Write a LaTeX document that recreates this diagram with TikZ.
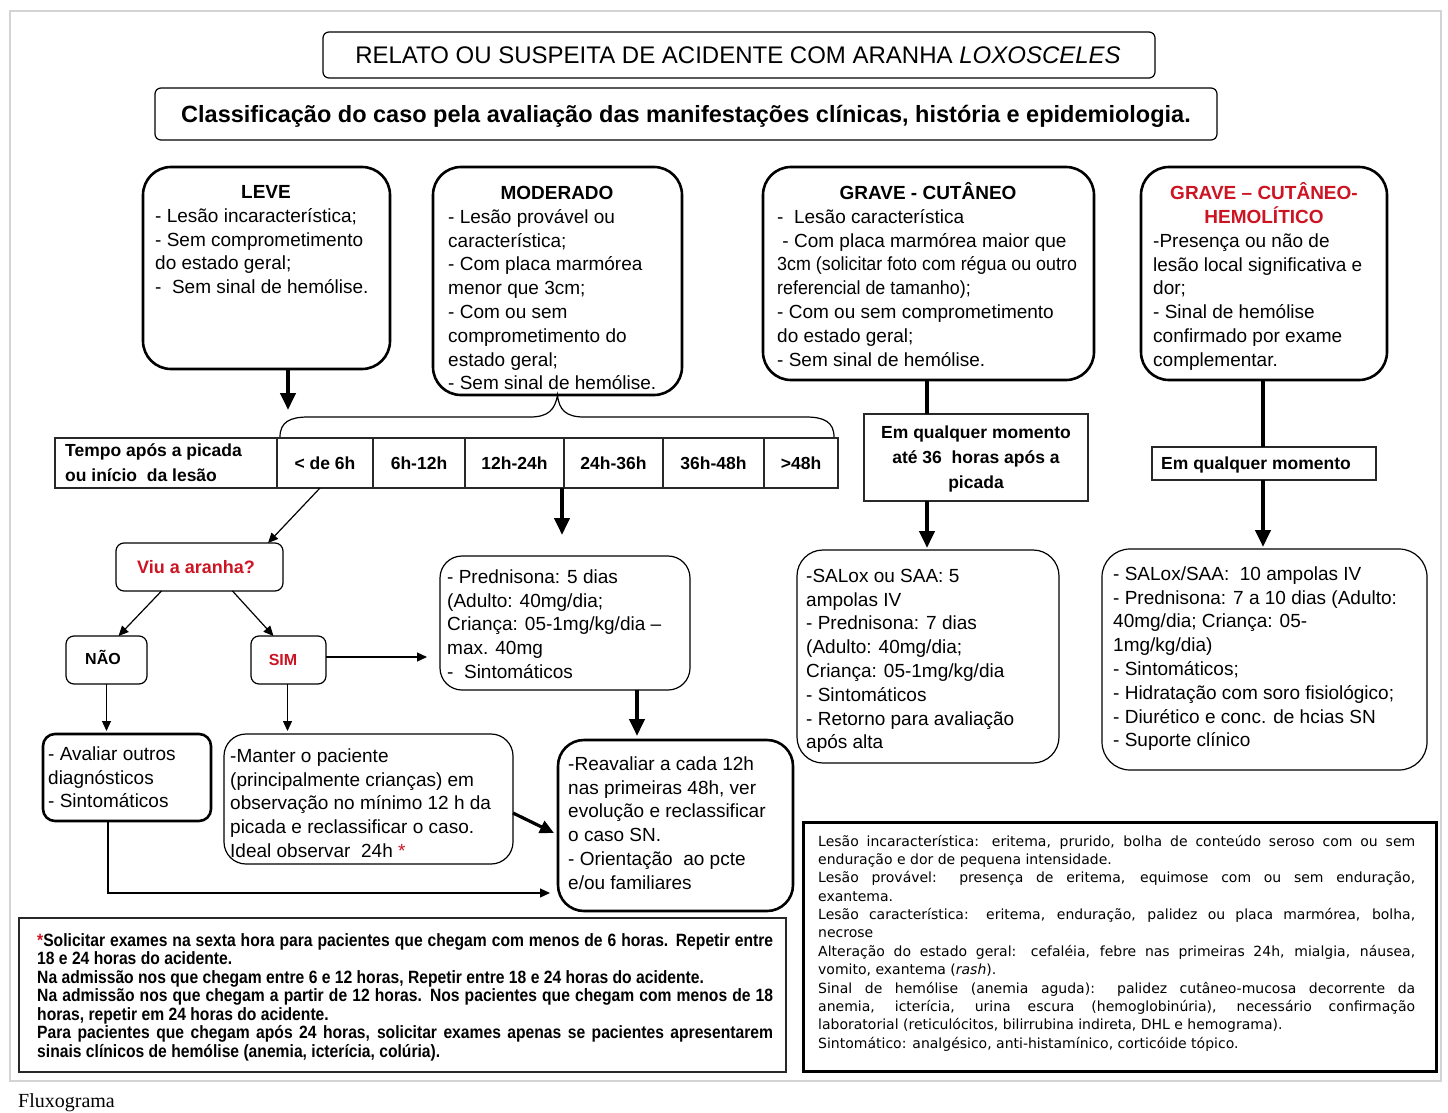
\documentclass[tikz,border=0pt]{standalone}
\usepackage{fontspec}
\setmainfont{Liberation Sans}
\newfontfamily\notefont{DejaVu Sans}
\newfontfamily\narrowfont[FakeStretch=0.88]{Liberation Sans}
\newfontfamily\condfont[FakeStretch=0.94]{Liberation Sans}
\newfontfamily\capfont{Liberation Serif}
\usetikzlibrary{arrows.meta}
\definecolor{myred}{RGB}{205,20,35}
\definecolor{framegray}{RGB}{212,212,212}
\definecolor{linegray}{RGB}{40,40,40}
\newcommand{\bx}{\fontsize{19}{23.8}\selectfont}
\newcommand{\tb}{\fontsize{17.5}{25}\selectfont\bfseries}
\tikzset{
  bigbox/.style={draw, line width=2.6pt, rounded corners=28pt, inner sep=0pt, outer sep=0pt, anchor=north west},
  thinbox/.style={draw, line width=1.2pt, rounded corners=22pt, inner sep=0pt, outer sep=0pt, anchor=north west},
  smallbox/.style={draw, line width=1.2pt, rounded corners=8pt, inner sep=0pt, outer sep=0pt, anchor=north west},
  sqbox/.style={draw=linegray, line width=1.5pt, inner sep=0pt, outer sep=0pt, anchor=north west},
  cell/.style={draw=linegray, line width=1.4pt, inner sep=0pt, outer sep=0pt, anchor=north west, font=\tb},
  bodytxt/.style={anchor=north west, inner sep=0pt, align=left, font=\bx},
  titletxt/.style={anchor=base, inner sep=0pt, font=\bx\bfseries},
  thickarr/.style={line width=4pt, -{Triangle[width=15pt,length=17pt]}},
  thickline/.style={line width=4pt},
  thinarr/.style={line width=1.2pt, -{Triangle[width=9pt,length=10pt]}},
}
\newcommand{\mybox}[6]{\node[#6, minimum width={#4-#2}, minimum height={#5-#3}] (#1) at (#2,#3) {};}
\begin{document}
\begin{tikzpicture}[x=1pt,y=-1pt]
\useasboundingbox (0,0) rectangle (1448,1113);
\fill[white] (0,0) rectangle (1448,1113);
\node[draw=framegray, line width=1.6pt, inner sep=0pt, anchor=north west, minimum width=1431, minimum height=1070] (frame) at (9,10) {};
\node[anchor=base west, inner sep=0pt, font=\capfont\fontsize{20}{24}\selectfont] (caption) at (18,1107) {Fluxograma};

% ---------- header boxes
\mybox{titlebox}{323}{32}{1155}{78}{smallbox, rounded corners=6pt}
\node[anchor=base, inner sep=0pt, font=\fontsize{24}{28}\selectfont] (titletext) at (738,64) {RELATO OU SUSPEITA DE ACIDENTE COM ARANHA \textit{LOXOSCELES}};
\mybox{classbox}{155}{88}{1217}{140}{smallbox, rounded corners=6pt}
\node[anchor=base, inner sep=0pt, font=\fontsize{23.5}{27}\selectfont\bfseries] (classtext) at (686,123) {Classificação do caso pela avaliação das manifestações clínicas, história e epidemiologia.};

% ---------- classification boxes
\mybox{leve}{143}{167}{390}{369}{bigbox}
\node[titletxt] (levet) at (266,198) {LEVE};
\node[bodytxt] (leveb) at (155,222-16.66) {\strut- Lesão incaracterística;\\- Sem comprometimento\\do estado geral;\\-\ \ Sem sinal de hemólise.};

\mybox{moderado}{433}{167}{682}{395}{bigbox}
\node[titletxt] (modt) at (557,199) {MODERADO};
\node[bodytxt] (modb) at (448,223-16.66) {\strut- Lesão provável ou\\característica;\\- Com placa marmórea\\menor que 3cm;\\- Com ou sem\\comprometimento do\\estado geral;\\- Sem sinal de hemólise.};

\mybox{gravec}{763}{167}{1094}{380}{bigbox}
\node[titletxt] (gct) at (928,199) {GRAVE - CUTÂNEO};
\node[bodytxt] (gcb) at (777,223-16.66) {\strut-\ \ Lesão característica\\\ - Com placa marmórea maior que\\{\condfont 3cm (solicitar foto com régua ou outro}\\{\condfont referencial de tamanho);}\\- Com ou sem comprometimento\\do estado geral;\\- Sem sinal de hemólise.};

\mybox{graveh}{1141}{167}{1387}{380}{bigbox}
\node[titletxt, text=myred] (ght1) at (1264,199) {GRAVE – CUTÂNEO-};
\node[titletxt, text=myred] (ght2) at (1264,223) {HEMOLÍTICO};
\node[bodytxt] (ghb) at (1153,247-16.66) {\strut-Presença ou não de\\lesão local significativa e\\dor;\\- Sinal de hemólise\\confirmado por exame\\complementar.};

% ---------- brace
\coordinate (braceL) at (280,437);
\coordinate (braceR) at (834,437);
\draw[line width=1.2pt] (braceL) .. controls (280,422) and (290,417) .. (308,417) -- (530,417) .. controls (548,417) and (555,410) .. (moderado.south) .. controls (559,410) and (566,417) .. (584,417) -- (806,417) .. controls (824,417) and (834,422) .. (braceR);

% ---------- table
\mybox{thead}{55}{438}{277}{488}{cell}
\node[anchor=north west, inner sep=0pt, align=left, font=\tb] (theadt) at (65,456-17.5) {\strut Tempo após a picada\\ou início\ \ da lesão};
\node[cell, minimum width=96, minimum height=50] (c1) at (277,438) {< de 6h};
\node[cell, minimum width=92, minimum height=50] (c2) at (373,438) {6h-12h};
\node[cell, minimum width=99, minimum height=50] (c3) at (465,438) {12h-24h};
\node[cell, minimum width=99, minimum height=50] (c4) at (564,438) {24h-36h};
\node[cell, minimum width=101, minimum height=50] (c5) at (663,438) {36h-48h};
\node[cell, minimum width=74, minimum height=50] (c6) at (764,438) {>48h};

\coordinate (leveEnd) at (288,410);
\draw[thickarr] (leve.south -| leveEnd) -- (leveEnd);

% ---------- grave boxes below
\mybox{emq1}{864}{414}{1088}{501}{sqbox}
\node[anchor=north, inner sep=0pt, align=center, font=\tb] (emq1t) at (976,438-17.5) {\strut Em qualquer momento\\até 36\ \ horas após a\\picada};
\mybox{emq2}{1152}{447}{1376}{480}{sqbox}
\node[anchor=base, inner sep=0pt, font=\tb] (emq2t) at (1256,469) {Em qualquer momento};

\coordinate (gcx) at (927,0);
\coordinate (ghx) at (1263,0);
\draw[thickline] (gravec.south -| gcx) -- (emq1.north -| gcx);
\draw[thickline] (graveh.south -| ghx) -- (emq2.north -| ghx);

\mybox{salox}{797}{550}{1059}{763}{thinbox, rounded corners=26pt}
\node[bodytxt] (saloxb) at (806,582-16.66) {\strut-SALox ou SAA: 5\\ampolas IV\\- Prednisona: 7 dias\\(Adulto: 40mg/dia;\\Criança: 05-1mg/kg/dia\\- Sintomáticos\\- Retorno para avaliação\\após alta};
\mybox{salox2}{1102}{549}{1427}{770}{thinbox, rounded corners=28pt}
\node[bodytxt] (salox2b) at (1113,580-16.66) {\strut- SALox/SAA:\ \ 10 ampolas IV\\- Prednisona: 7 a 10 dias (Adulto:\\40mg/dia; Criança: 05-\\1mg/kg/dia)\\- Sintomáticos;\\- Hidratação com soro fisiológico;\\- Diurético e conc. de hcias SN\\- Suporte clínico};

\draw[thickarr] (emq1.south -| gcx) -- ([yshift=2pt]salox.north -| gcx);
\draw[thickarr] (emq2.south -| ghx) -- ([yshift=2pt]salox2.north -| ghx);

% ---------- left flow
\mybox{viu}{116}{543}{283}{591}{smallbox}
\node[anchor=base, inner sep=0pt, font=\fontsize{18}{22}\selectfont\bfseries, text=myred] (viut) at (196,573) {Viu a aranha?};
\mybox{nao}{66}{636}{147}{684}{smallbox}
\node[anchor=base, inner sep=0pt, font=\fontsize{16}{20}\selectfont\bfseries] (naot) at (103,664) {NÃO};
\mybox{sim}{251}{636}{326}{684}{smallbox}
\node[anchor=base, inner sep=0pt, font=\fontsize{16}{20}\selectfont\bfseries, text=myred] (simt) at (283,665) {SIM};

\draw[thinarr] ([xshift=-5pt]c1.south) -- ([xshift=-15pt]viu.north east);
\draw[thinarr] ([xshift=-38pt]viu.south) -- ([xshift=12pt]nao.north);
\draw[thinarr] ([xshift=33pt]viu.south) -- ([xshift=-15pt]sim.north);

\mybox{pred}{440}{556}{690}{690}{thinbox}
\node[bodytxt] (predb) at (447,583-16.66) {\strut- Prednisona: 5 dias\\(Adulto: 40mg/dia;\\Criança: 05-1mg/kg/dia –\\max. 40mg\\-\ \ Sintomáticos};
\coordinate (simEnd) at (427,657);
\draw[thinarr] (sim.east |- simEnd) -- (simEnd);

\coordinate (tabx) at (562,0);
\draw[thickarr] (c3.south east -| tabx) -- ([yshift=21pt]pred.north -| tabx);

\mybox{avaliar}{43}{734}{211}{821}{bigbox, rounded corners=12pt}
\node[bodytxt] (avaliarb) at (48,760-16.66) {\strut- Avaliar outros\\diagnósticos\\- Sintomáticos};
\mybox{manter}{224}{734}{513}{864}{thinbox}
\node[bodytxt] (manterb) at (230,762-16.66) {\strut-Manter o paciente\\(principalmente crianças) em\\observação no mínimo 12 h da\\picada e reclassificar o caso.\\Ideal observar\ \ 24h {\color{myred}*}};
\mybox{reav}{558}{740}{793}{911}{bigbox, rounded corners=26pt}
\node[bodytxt] (reavb) at (568,770-16.66) {\strut-Reavaliar a cada 12h\\nas primeiras 48h, ver\\evolução e reclassificar\\o caso SN.\\- Orientação\ \ ao pcte\\e/ou familiares};

\draw[thinarr] (nao.south) -- ([yshift=3pt]nao.south |- avaliar.north);
\draw[thinarr] ([xshift=-1pt]sim.south) -- ([xshift=-1pt,yshift=3pt]sim.south |- manter.north);
\coordinate (predx) at (637,0);
\draw[thickarr] (pred.south -| predx) -- ([yshift=4pt]reav.north -| predx);
\coordinate (manterOut) at (513,813);
\coordinate (reavIn) at (554,833);
\draw[line width=3.2pt, -{Triangle[width=13pt,length=14pt]}] (manterOut) -- (reavIn);
\coordinate (avalLine) at (108,893);
\draw[thinarr] (avaliar.south -| avalLine) -- (avalLine) -- ([xshift=-8pt]reav.west |- avalLine);

% ---------- notes
\mybox{noteL}{19}{918}{786}{1072}{sqbox, line width=1.4pt}
\node[anchor=north west, inner sep=0pt, text width=736pt, align=justify, font=\narrowfont\fontsize{17.8}{18.5}\selectfont\bfseries] (noteLt) at (37,946-12.95) {\strut{\color{myred}*}Solicitar exames na sexta hora para pacientes que chegam com menos de 6 horas. Repetir entre\linebreak 18 e 24 horas do acidente.\\Na admissão nos que chegam entre 6 e 12 horas, Repetir entre 18 e 24 horas do acidente.\\Na admissão nos que chegam a partir de 12 horas. Nos pacientes que chegam com menos de 18\linebreak horas, repetir em 24 horas do acidente.\\Para pacientes que chegam após 24 horas, solicitar exames apenas se pacientes apresentarem\linebreak sinais clínicos de hemólise (anemia, icterícia, colúria).};

\mybox{noteR}{803}{822}{1436}{1071}{sqbox, draw=black, line width=3pt}
\node[anchor=north west, inner sep=0pt, text width=597pt, align=justify, font=\notefont\fontsize{14}{18.35}\selectfont] (noteRt) at (818,846-12.85) {\strut Lesão incaracterística: eritema, prurido, bolha de conteúdo seroso com ou sem\linebreak enduração e dor de pequena intensidade.\\Lesão provável: presença de eritema, equimose com ou sem enduração,\linebreak exantema.\\Lesão característica: eritema, enduração, palidez ou placa marmórea, bolha,\linebreak necrose\\Alteração do estado geral: cefaléia, febre nas primeiras 24h, mialgia, náusea,\linebreak vomito, exantema (\textit{rash}).\\Sinal de hemólise (anemia aguda): palidez cutâneo-mucosa decorrente da\linebreak anemia, icterícia, urina escura (hemoglobinúria), necessário confirmação\linebreak laboratorial (reticulócitos, bilirrubina indireta, DHL e hemograma).\\Sintomático: analgésico, anti-histamínico, corticóide tópico.};
\end{tikzpicture}
\end{document}
